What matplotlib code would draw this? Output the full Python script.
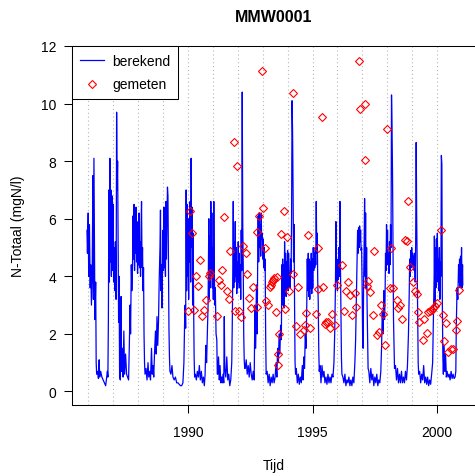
import matplotlib
matplotlib.use("Agg")
import matplotlib.pyplot as plt

plt.rcParams['font.family'] = ['Liberation Sans', 'DejaVu Sans']

# berekend (model), season by season
t_berekend = [
    1985.95, 1985.97, 1986.00, 1986.02, 1986.05, 1986.08, 1986.10, 1986.13, 1986.16, 1986.19, 1986.21, 1986.23, 1986.25, 1986.27, 1986.30, 1986.32, 1986.34,
    1986.38, 1986.41, 1986.44, 1986.46, 1986.50, 1986.55, 1986.60, 1986.65, 1986.70, 1986.74, 1986.77, 1986.79,
    1986.81, 1986.83, 1986.85, 1986.87, 1986.89, 1986.91, 1986.93, 1986.95, 1986.97, 1987.00, 1987.02, 1987.05, 1987.07, 1987.09, 1987.12, 1987.14, 1987.16, 1987.18, 1987.20, 1987.22, 1987.24, 1987.26,
    1987.29, 1987.32, 1987.34, 1987.37, 1987.40, 1987.43, 1987.46, 1987.50, 1987.54, 1987.58, 1987.62, 1987.65, 1987.68, 1987.70, 1987.73, 1987.75,
    1987.78, 1987.80, 1987.82, 1987.84, 1987.86, 1987.88, 1987.90, 1987.92, 1987.94, 1987.96, 1987.98, 1988.00, 1988.02, 1988.04, 1988.06, 1988.08, 1988.10, 1988.12, 1988.14, 1988.16, 1988.18, 1988.20, 1988.22, 1988.24, 1988.26, 1988.28,
    1988.32, 1988.36, 1988.40, 1988.43, 1988.47, 1988.50, 1988.54, 1988.57, 1988.60, 1988.63, 1988.66, 1988.70, 1988.73, 1988.76, 1988.79, 1988.82, 1988.85,
    1988.88, 1988.90, 1988.92, 1988.94, 1988.96, 1988.98, 1989.00, 1989.02, 1989.04, 1989.06, 1989.08, 1989.10, 1989.12, 1989.14, 1989.16, 1989.18, 1989.20, 1989.22, 1989.24, 1989.26, 1989.28,
    1989.32, 1989.36, 1989.40, 1989.45, 1989.50, 1989.55, 1989.60, 1989.65, 1989.70, 1989.75, 1989.80, 1989.84, 1989.87,
    1989.89, 1989.91, 1989.93, 1989.95, 1989.97, 1989.99, 1990.01, 1990.03, 1990.05, 1990.07, 1990.09, 1990.11, 1990.13, 1990.15, 1990.17, 1990.19, 1990.21, 1990.23, 1990.25, 1990.27,
    1990.30, 1990.34, 1990.38, 1990.42, 1990.46, 1990.50, 1990.54, 1990.58, 1990.62, 1990.66, 1990.69, 1990.72, 1990.75, 1990.78, 1990.81,
    1990.84, 1990.86, 1990.88, 1990.90, 1990.92, 1990.94, 1990.96, 1990.98, 1991.00, 1991.02, 1991.04, 1991.06, 1991.08, 1991.10, 1991.13, 1991.16, 1991.18,
    1991.20, 1991.23, 1991.26, 1991.29, 1991.32, 1991.35, 1991.38, 1991.41, 1991.44, 1991.46, 1991.48, 1991.52, 1991.56, 1991.60, 1991.64, 1991.68, 1991.72, 1991.76, 1991.78,
    1991.80, 1991.82, 1991.84, 1991.86, 1991.88, 1991.90, 1991.92, 1991.94, 1991.96, 1991.98, 1992.00, 1992.02, 1992.04, 1992.06, 1992.08, 1992.10, 1992.12, 1992.14, 1992.16, 1992.18, 1992.20, 1992.22, 1992.24, 1992.26, 1992.28,
    1992.30, 1992.34, 1992.38, 1992.42, 1992.46, 1992.50, 1992.54, 1992.58, 1992.62, 1992.66, 1992.69, 1992.72, 1992.75, 1992.78, 1992.80,
    1992.82, 1992.84, 1992.86, 1992.88, 1992.90, 1992.92, 1992.94, 1992.96, 1992.98, 1993.00, 1993.02, 1993.04, 1993.06, 1993.08, 1993.10, 1993.12, 1993.14,
    1993.18, 1993.22, 1993.26, 1993.30, 1993.34, 1993.38, 1993.42, 1993.46, 1993.50, 1993.54, 1993.57, 1993.60, 1993.63, 1993.66, 1993.69, 1993.72, 1993.75, 1993.77,
    1993.78, 1993.80, 1993.82, 1993.84, 1993.86, 1993.88, 1993.90, 1993.92, 1993.94, 1993.96, 1993.98, 1994.00, 1994.02, 1994.04, 1994.06, 1994.08, 1994.10, 1994.12, 1994.14, 1994.16, 1994.18, 1994.20, 1994.22, 1994.24, 1994.26, 1994.28, 1994.30, 1994.32,
    1994.35, 1994.39, 1994.43, 1994.47, 1994.51, 1994.55, 1994.59, 1994.62, 1994.65, 1994.68, 1994.71, 1994.74, 1994.77, 1994.79,
    1994.81, 1994.83, 1994.85, 1994.87, 1994.89, 1994.91, 1994.93, 1994.95, 1994.97, 1994.99, 1995.01, 1995.03, 1995.05, 1995.07, 1995.09, 1995.11, 1995.13, 1995.15, 1995.17, 1995.19, 1995.21, 1995.23, 1995.25, 1995.27,
    1995.30, 1995.34, 1995.38, 1995.42, 1995.46, 1995.50, 1995.54, 1995.58, 1995.62, 1995.66, 1995.70, 1995.74, 1995.78, 1995.82, 1995.86, 1995.89,
    1995.92, 1995.94, 1995.96, 1995.98, 1996.00, 1996.02, 1996.04, 1996.06, 1996.08, 1996.10, 1996.12, 1996.14, 1996.16, 1996.18,
    1996.22, 1996.26, 1996.30, 1996.34, 1996.38, 1996.42, 1996.46, 1996.50, 1996.54, 1996.58, 1996.62, 1996.66, 1996.70, 1996.73, 1996.76, 1996.79,
    1996.81, 1996.83, 1996.85, 1996.87, 1996.89, 1996.91, 1996.93, 1996.95, 1996.97, 1996.99, 1997.01, 1997.03, 1997.05, 1997.07, 1997.09, 1997.11, 1997.13, 1997.15, 1997.17, 1997.19, 1997.21, 1997.23,
    1997.26, 1997.30, 1997.34, 1997.38, 1997.42, 1997.46, 1997.50, 1997.54, 1997.58, 1997.62, 1997.66, 1997.70, 1997.74, 1997.77, 1997.80, 1997.83, 1997.86, 1997.89,
    1997.91, 1997.93, 1997.95, 1997.97, 1997.99, 1998.01, 1998.03, 1998.05, 1998.07, 1998.09, 1998.11, 1998.13, 1998.15, 1998.17, 1998.19, 1998.21, 1998.23, 1998.25, 1998.27, 1998.29,
    1998.33, 1998.37, 1998.41, 1998.45, 1998.49, 1998.53, 1998.57, 1998.61, 1998.65, 1998.69, 1998.73, 1998.77, 1998.81, 1998.85, 1998.88,
    1998.90, 1998.92, 1998.94, 1998.96, 1998.98, 1999.00, 1999.02, 1999.04, 1999.06, 1999.08, 1999.10, 1999.12, 1999.14, 1999.16, 1999.18, 1999.20, 1999.22, 1999.24, 1999.26,
    1999.30, 1999.34, 1999.38, 1999.42, 1999.46, 1999.50, 1999.54, 1999.58, 1999.62, 1999.66, 1999.70, 1999.74, 1999.78, 1999.82, 1999.85, 1999.88,
    1999.89, 1999.91, 1999.93, 1999.95, 1999.97, 1999.99, 2000.01, 2000.03, 2000.05, 2000.07, 2000.09, 2000.11, 2000.13, 2000.15, 2000.17, 2000.19, 2000.21, 2000.23, 2000.25,
    2000.28, 2000.31, 2000.34, 2000.37, 2000.40, 2000.44, 2000.48, 2000.52, 2000.56, 2000.60, 2000.64, 2000.68, 2000.72, 2000.75,
    2000.77, 2000.80, 2000.83, 2000.86, 2000.88, 2000.90, 2000.92, 2000.94, 2000.96, 2000.98, 2001.00, 2001.02, 2001.03,
]
n_berekend = [
    5.6, 4.8, 6.2, 4.0, 5.8, 3.6, 4.4, 3.0, 4.2, 7.5, 3.2, 8.1, 5.0, 2.5, 3.8, 1.0, 0.6,
    0.7, 0.45, 1.1, 0.5, 0.7, 0.5, 0.4, 0.3, 0.2, 0.5, 0.7, 0.5,
    2.5, 7.0, 3.8, 8.1, 4.5, 7.0, 4.0, 6.8, 4.2, 6.5, 3.8, 5.0, 3.5, 5.2, 3.2, 9.7, 7.0, 8.0, 5.4, 2.4, 4.0, 0.5,
    0.4, 3.3, 0.7, 1.5, 0.5, 2.1, 0.6, 1.3, 0.6, 0.5, 0.4, 1.6, 3.0, 2.0, 4.4, 3.5,
    4.4, 6.1, 4.6, 6.5, 4.2, 6.0, 4.8, 6.4, 4.5, 5.6, 4.1, 5.9, 4.4, 6.2, 4.3, 5.2, 4.0, 5.5, 6.6, 4.3, 5.0, 3.5, 4.3, 2.0, 1.0, 0.6,
    0.8, 0.4, 1.0, 0.5, 0.7, 0.4, 1.5, 0.6, 0.9, 0.5, 1.3, 2.1, 1.3, 2.6, 1.6, 2.4, 3.9,
    5.0, 6.3, 3.5, 4.4, 2.9, 4.3, 5.6, 4.2, 6.4, 4.3, 5.4, 4.0, 6.6, 4.6, 6.0, 7.1, 6.8, 4.3, 2.2, 1.2, 0.7,
    0.6, 0.9, 0.5, 0.4, 0.5, 0.3, 0.3, 0.25, 0.2, 0.2, 0.3, 1.0, 2.5,
    3.0, 2.2, 7.0, 3.5, 6.5, 4.0, 6.0, 3.2, 5.8, 4.5, 6.6, 3.8, 8.1, 5.0, 6.4, 3.0, 5.5, 3.0, 1.2, 0.5,
    0.6, 0.4, 0.7, 0.5, 0.9, 0.4, 0.7, 0.3, 0.5, 0.2, 0.6, 1.6, 1.0, 2.0, 3.0,
    6.0, 3.2, 5.4, 3.6, 6.6, 4.0, 6.2, 3.6, 5.0, 3.2, 6.6, 4.2, 3.0, 3.6, 2.0, 1.8, 0.6,
    0.6, 1.2, 0.4, 0.9, 0.3, 0.5, 0.3, 0.6, 0.3, 2.6, 0.8, 0.5, 1.2, 0.4, 0.6, 0.2, 0.4, 1.0, 2.3,
    4.0, 6.6, 3.6, 5.2, 3.8, 5.9, 4.0, 5.0, 3.4, 4.5, 3.6, 5.2, 3.8, 4.8, 3.6, 4.4, 3.2, 5.6, 4.2, 10.4, 5.9, 4.4, 2.0, 1.1, 0.8,
    0.8, 1.1, 0.6, 0.9, 0.5, 1.0, 0.6, 0.4, 0.7, 0.4, 3.0, 1.5, 3.7, 2.0, 4.5,
    6.1, 4.5, 6.2, 5.0, 5.8, 4.7, 6.2, 5.3, 5.5, 4.6, 5.3, 4.3, 5.0, 4.2, 4.6, 2.0, 0.6,
    0.7, 0.3, 0.6, 0.2, 0.5, 0.3, 0.6, 0.3, 0.5, 1.0, 0.5, 1.5, 1.0, 2.0, 1.3, 2.3, 1.8, 4.4,
    3.0, 4.6, 3.2, 4.4, 2.9, 5.2, 3.5, 4.8, 3.3, 4.5, 3.6, 4.9, 3.5, 4.8, 4.0, 4.1, 3.6, 4.6, 4.1, 6.0, 10.1, 9.0, 7.0, 4.5, 5.8, 3.0, 1.0, 0.6,
    0.8, 0.3, 0.6, 0.25, 0.5, 0.3, 0.9, 0.4, 1.2, 0.8, 2.0, 1.5, 3.0, 4.6,
    3.5, 4.8, 3.3, 4.6, 3.2, 4.5, 3.6, 4.8, 3.4, 4.6, 3.6, 5.0, 4.2, 4.8, 4.3, 5.0, 4.4, 6.6, 4.8, 5.5, 3.8, 3.1, 1.5, 0.7,
    0.9, 0.3, 0.9, 0.5, 0.7, 0.3, 0.5, 0.25, 0.6, 0.3, 0.5, 0.3, 0.6, 0.5, 1.0, 2.0,
    3.6, 5.9, 3.8, 4.4, 3.5, 4.6, 3.9, 5.0, 4.0, 6.6, 4.5, 3.0, 1.2, 0.6,
    0.5, 0.3, 0.6, 0.2, 0.4, 0.3, 0.5, 0.2, 0.4, 0.2, 0.5, 0.3, 1.0, 1.8, 3.2, 4.6,
    5.6, 4.8, 5.7, 5.0, 5.75, 5.2, 5.6, 4.9, 5.0, 3.7, 2.0, 1.5, 3.7, 5.0, 6.7, 4.0, 6.2, 3.6, 5.0, 3.0, 1.8, 0.8,
    0.7, 0.3, 0.8, 0.4, 0.6, 0.2, 0.5, 0.3, 0.6, 0.2, 0.4, 0.3, 0.7, 1.5, 2.8, 2.0, 3.5, 2.5,
    3.2, 4.8, 4.2, 5.8, 4.6, 5.6, 4.4, 4.8, 4.1, 5.2, 4.4, 5.8, 5.0, 10.3, 9.2, 7.6, 5.0, 2.5, 1.7, 0.8,
    0.9, 0.4, 0.8, 0.3, 0.6, 0.3, 0.7, 0.3, 0.5, 0.3, 0.7, 0.4, 0.9, 2.0, 3.4,
    4.6, 4.0, 4.9, 4.3, 5.0, 4.4, 4.8, 4.3, 4.7, 4.2, 4.8, 3.8, 5.2, 8.65, 6.0, 4.3, 2.5, 1.0, 0.6,
    0.7, 0.3, 0.6, 0.4, 0.9, 0.3, 0.5, 0.25, 0.5, 0.2, 0.4, 0.25, 0.6, 1.0, 2.5, 4.0,
    5.4, 3.0, 5.0, 3.6, 5.3, 4.2, 5.5, 3.8, 4.6, 3.5, 5.0, 3.2, 4.5, 4.0, 8.2, 7.9, 3.0, 1.2, 0.6,
    1.6, 0.7, 1.3, 0.5, 0.7, 0.5, 0.6, 0.4, 0.7, 0.45, 0.6, 0.45, 0.5, 0.7,
    2.3, 3.6, 3.2, 4.4, 3.8, 4.6, 3.6, 4.7, 4.0, 5.0, 3.6, 4.4, 3.7,
]

# gemeten (measured)
t_gemeten = [
    1990.02, 1990.09, 1990.18, 1990.24, 1990.32, 1990.40, 1990.48, 1990.57, 1990.65, 1990.72,
    1990.84, 1990.90, 1991.17, 1991.24, 1991.31, 1991.38, 1991.46, 1991.58, 1991.66, 1991.70,
    1991.86, 1991.98, 1991.88, 1992.06, 1992.14, 1992.22, 1992.34, 1992.38, 1992.47, 1992.54,
    1992.63, 1992.76, 1992.79, 1992.84, 1992.98, 1993.02, 1993.10, 1993.15, 1993.23, 1993.31,
    1993.35, 1993.39, 1993.43, 1993.47, 1993.59, 1993.54, 1993.64, 1993.62, 1993.62, 1993.74,
    1993.87, 1993.99, 1993.91, 1994.06, 1994.23, 1994.22, 1994.43, 1994.35, 1994.51, 1994.64,
    1994.71, 1994.75, 1994.90, 1994.83, 1995.23, 1995.23, 1995.44, 1995.15, 1995.39, 1995.50,
    1995.56, 1995.63, 1995.70, 1995.80, 1995.90, 1995.97, 1996.17, 1996.25, 1996.34, 1996.43,
    1996.50, 1996.70, 1996.57, 1996.74, 1996.87, 1996.90, 1997.10, 1997.10, 1997.18, 1997.22,
    1997.31, 1997.47, 1997.42, 1997.58, 1997.67, 1997.75, 1997.82, 1997.91, 1997.99, 1998.14,
    1998.11, 1998.24, 1998.38, 1998.42, 1998.51, 1998.60, 1998.71, 1998.78, 1998.84, 1998.91,
    1999.02, 1999.11, 1999.18, 1999.24, 1999.28, 1999.48, 1999.44, 1999.60, 1999.65, 1999.71,
    1999.78, 1999.84, 1999.91, 2000.00, 2000.14, 2000.22, 2000.27, 2000.35, 2000.44, 2000.55,
    2000.64, 2000.78, 2000.74, 2000.87,
]
n_gemeten = [
    2.81, 6.26, 5.49, 2.84, 4.00, 3.65, 4.58, 2.63, 2.84, 3.19,
    4.02, 4.11, 2.63, 3.88, 3.70, 4.21, 6.07, 3.50, 3.22, 4.88,
    8.65, 7.84, 2.81, 2.81, 2.59, 5.06, 4.81, 4.08, 3.24, 2.91,
    3.62, 2.93, 5.55, 6.08, 11.12, 6.36, 4.98, 3.15, 3.01, 3.62,
    3.71, 3.79, 3.87, 3.94, 3.96, 2.77, 1.99, 1.30, 0.93, 5.48,
    6.28, 5.37, 2.87, 3.50, 4.07, 10.38, 3.64, 2.29, 2.00, 2.14,
    2.31, 2.73, 2.21, 5.45, 4.98, 3.56, 3.64, 2.68, 9.54, 2.35,
    2.41, 2.43, 2.20, 2.70, 2.31, 3.70, 4.38, 2.81, 3.50, 3.79,
    3.35, 3.41, 2.64, 2.93, 11.47, 9.81, 9.99, 8.05, 3.68, 3.82,
    3.47, 4.88, 2.64, 1.97, 2.08, 3.01, 2.70, 1.62, 9.11, 4.97,
    3.59, 3.59, 3.19, 2.89, 3.01, 2.52, 5.26, 5.22, 6.60, 4.31,
    3.79, 3.48, 3.39, 2.77, 2.41, 2.52, 1.80, 2.03, 2.75, 2.80,
    2.83, 2.90, 2.98, 3.07, 5.62, 2.66, 1.77, 2.37, 1.37, 1.48,
    1.48, 2.46, 2.15, 3.54,
]

year_lines = list(range(1986, 2001))
x_ticks = [1990, 1995, 2000]
y_ticks = [0, 2, 4, 6, 8, 10, 12]

fig = plt.figure(figsize=(4.75, 4.77), dpi=100)
ax = fig.add_axes([72 / 475, 71 / 477, 405 / 475, 359 / 477])

for yr in year_lines:
    ax.axvline(yr, color='#b8b8b8', lw=0.8, ls=(0, (1, 2.5)), zorder=0.5)

ax.plot(t_berekend, n_berekend, color='#0000ff', lw=0.9, label='berekend', zorder=2)
ax.plot(t_gemeten, n_gemeten, ls='none', marker='D', ms=3.8, mfc='none',
        mec='#ff0000', mew=0.8, label='gemeten', zorder=3)

ax.set_xlim(1985.35, 2001.6)
ax.set_ylim(-0.47, 12.0)
ax.set_xticks(x_ticks)
ax.set_yticks(y_ticks)
ax.tick_params(direction='out', length=5.5, width=0.75, labelsize=10, pad=3)
ax.tick_params(axis='x', pad=9)
ax.tick_params(axis='y', pad=6)
for sp in ax.spines.values():
    sp.set_linewidth(0.75)

leg = ax.legend(loc='upper left', borderaxespad=0, fancybox=False, framealpha=1,
                edgecolor='black', fontsize=10, handlelength=1.75, handletextpad=0.6,
                labelspacing=0.7, borderpad=0.55)
leg.get_frame().set_linewidth(0.75)

fig.text(274 / 475, 1 - 17 / 477, 'MMW0001', ha='center', va='center',
         fontsize=11.5, fontweight='bold')
fig.text(274 / 475, 1 - 466 / 477, 'Tijd', ha='center', va='center', fontsize=10)
fig.text(18 / 475, 1 - 226 / 477, 'N-Totaal (mgN/l)', ha='center', va='center',
         fontsize=10, rotation=90)

fig.savefig('out.png', dpi=100)
